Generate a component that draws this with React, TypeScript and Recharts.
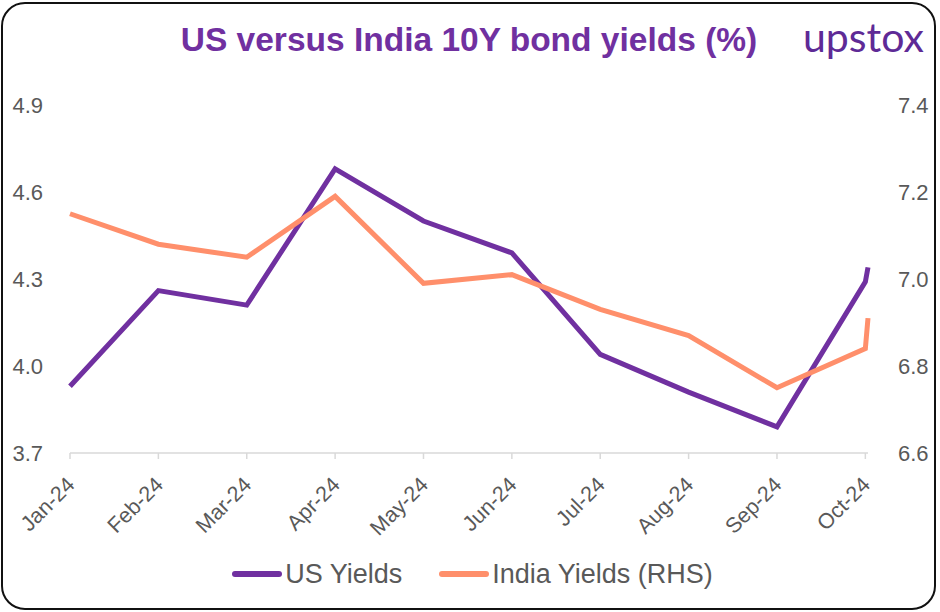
import React from "react";
import { LineChart, Line, XAxis, YAxis, Legend } from "recharts";

// month labels on the x axis
const months = ["Jan-24", "Feb-24", "Mar-24", "Apr-24", "May-24", "Jun-24", "Jul-24", "Aug-24", "Sep-24", "Oct-24"];
// US 10Y yields, left axis (%)
const usYields = [3.93, 4.26, 4.21, 4.68, 4.5, 4.39, 4.04, 3.91, 3.79, 4.29];
// India 10Y yields, right axis (%)
const indiaYields = [7.15, 7.08, 7.05, 7.19, 6.99, 7.01, 6.93, 6.87, 6.75, 6.84];
// latest reading, just after the Oct-24 point
const latestX = 9.03;
const latestUs = 4.34;
const latestIndia = 6.91;

const leftTicks = [3.7, 4.0, 4.3, 4.6, 4.9];
const rightTicks = [6.6, 6.8, 7.0, 7.2, 7.4];
const seriesNames = ["US Yields", "India Yields (RHS)"];

const data = [
  ...months.map((m, i) => ({ x: i, us: usYields[i], india: indiaYields[i] })),
  { x: latestX, us: latestUs, india: latestIndia },
];

const PURPLE = "#7030A0";
const ORANGE = "#FF8F6B";
const GREY = "#595959";
const FONT = "'Liberation Sans', Arial, sans-serif";

const MonthTick = (props: any) => {
  const { x, y, payload } = props;
  const label = months[Math.round(payload.value)] ?? "";
  return (
    <text
      x={x + 6}
      y={y + 25}
      transform={`rotate(-45, ${x + 6}, ${y + 25})`}
      textAnchor="end"
      fontSize={21.5}
      fill={GREY}
      fontFamily={FONT}
    >
      {label}
    </text>
  );
};

const LegendContent = (props: any) => {
  const items = [...(props.payload || [])].sort(
    (a: any, b: any) => seriesNames.indexOf(a.value) - seriesNames.indexOf(b.value)
  );
  return (
    <div style={{ display: "flex", justifyContent: "center", alignItems: "center", height: 40, paddingLeft: 5 }}>
      {items.map((it: any, i: number) => (
        <div key={i} style={{ display: "flex", alignItems: "center", marginLeft: i ? 37 : 0 }}>
          <div style={{ width: 50, height: 6, borderRadius: 3, background: it.color, marginRight: 3 }} />
          <span style={{ fontSize: 27, color: GREY, fontFamily: FONT }}>{it.value}</span>
        </div>
      ))}
    </div>
  );
};

export default function App() {
  return (
    <div style={{ position: "absolute", left: 0, top: 0, width: 940, height: 612, background: "#fff", fontFamily: FONT }}>
      <div
        style={{
          position: "absolute", left: 1, top: 2, width: 935, height: 608,
          border: "2px solid #111", borderRadius: 24, boxSizing: "border-box",
        }}
      />
      <div
        style={{
          position: "absolute", left: 0, top: 23, width: 938, textAlign: "center",
          fontSize: 33.5, lineHeight: "33px", fontWeight: "bold", color: PURPLE,
        }}
      >
        US versus India 10Y bond yields (%)
      </div>
      <div
        style={{
          position: "absolute", left: 803, top: 15, fontSize: 41, lineHeight: "44px",
          color: "#5E2A96", fontFamily: "Lato, 'Open Sans', sans-serif", letterSpacing: 0,
        }}
      >
        upstox
      </div>
      <LineChart width={940} height={612} data={data} margin={{ top: 105, right: 10, bottom: 18, left: 10 }}>
        <XAxis
          dataKey="x"
          type="number"
          domain={[0, latestX]}
          ticks={months.map((_, i) => i)}
          interval={0}
          height={101}
          axisLine={{ stroke: "#D9D9D9", strokeWidth: 1.5 }}
          tickLine={{ stroke: "#D9D9D9", strokeWidth: 1.5 }}
          tickSize={6}
          tick={<MonthTick />}
        />
        <YAxis
          yAxisId="left"
          orientation="left"
          domain={[3.7, 4.9]}
          ticks={leftTicks}
          width={60}
          axisLine={false}
          tickLine={false}
          tickSize={0}
          tickMargin={27}
          tickFormatter={(v: number) => v.toFixed(1)}
          tick={{ fontSize: 22, fill: GREY, fontFamily: FONT }}
        />
        <YAxis
          yAxisId="right"
          orientation="right"
          domain={[6.6, 7.4]}
          ticks={rightTicks}
          width={62}
          axisLine={false}
          tickLine={false}
          tickSize={0}
          tickMargin={30}
          tickFormatter={(v: number) => v.toFixed(1)}
          tick={{ fontSize: 22, fill: GREY, fontFamily: FONT, textAnchor: "start" }}
        />
        <Legend verticalAlign="bottom" content={<LegendContent />} />
        <Line
          yAxisId="left"
          type="linear"
          dataKey="us"
          name="US Yields"
          stroke={PURPLE}
          strokeWidth={5}
          dot={false}
          isAnimationActive={false}
        />
        <Line
          yAxisId="right"
          type="linear"
          dataKey="india"
          name="India Yields (RHS)"
          stroke={ORANGE}
          strokeWidth={5}
          dot={false}
          isAnimationActive={false}
        />
      </LineChart>
    </div>
  );
}
